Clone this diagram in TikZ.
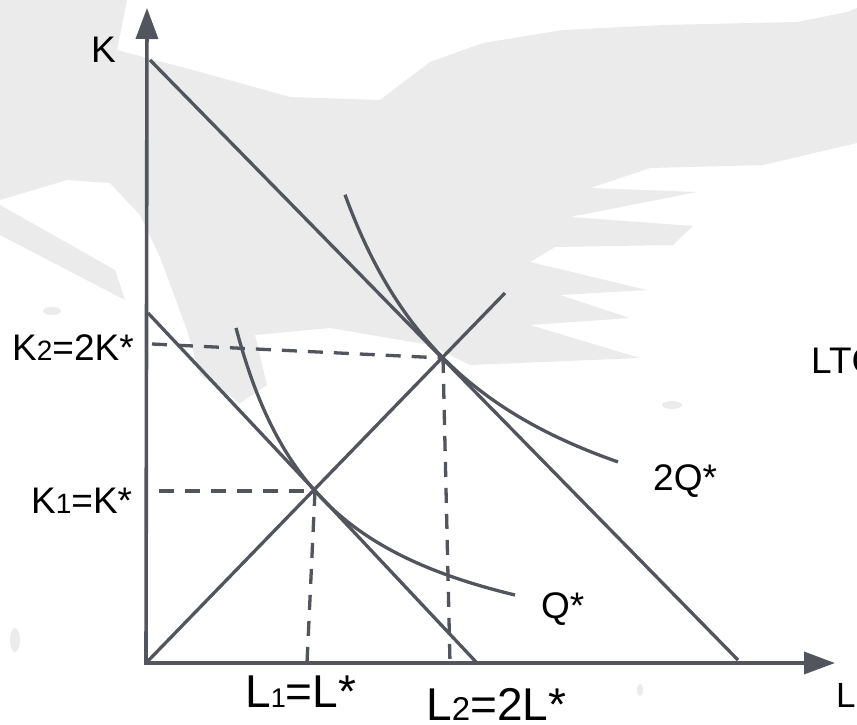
\documentclass[tikz,border=0pt]{standalone}
\usepackage{fontspec}
\setmainfont{Liberation Sans}
\usetikzlibrary{arrows.meta}
\definecolor{inkgray}{RGB}{82,85,94}
\definecolor{splashgray}{RGB}{235,235,235}

\begin{document}
\begin{tikzpicture}[x=1pt,y=-1pt,
  axis/.style={line width=3.6pt, inkgray, {Triangle[length=31pt,width=22pt]}-{Triangle[length=31pt,width=22pt]}},
  budget/.style={line width=3.3pt, inkgray},
  isoquant/.style={line width=3.3pt, inkgray},
  guide/.style={line width=3.3pt, inkgray, dash pattern=on 15pt off 11pt},
  lbl/.style={anchor=base west, inner sep=0pt, font=\fontsize{37}{37}\selectfont},
  biglbl/.style={anchor=base west, inner sep=0pt, font=\fontsize{46}{46}\selectfont}]
\useasboundingbox (0,0) rectangle (857,725);
\fill[white] (0,0) rectangle (857,725);

% Background brush stroke
\fill[splashgray] (0,0) -- (127,0) -- (117,50) -- (200,72) -- (290,97) -- (380,100)
  -- (430,62) -- (483,43) -- (563,30) -- (663,25) -- (797,22) -- (847,12) -- (857,8)
  -- (857,143) -- (763,165) -- (650,168) -- (590,188) -- (697,192) -- (570,217)
  -- (693,226) -- (673,245) -- (555,247) -- (530,262) -- (647,290) -- (560,295)
  -- (630,318) -- (530,325) -- (640,358) -- (470,365) -- (430,345) -- (330,328)
  -- (255,335) -- (267,385) -- (240,403) -- (200,375) -- (187,330) -- (160,257)
  -- (140,215) -- (110,183) -- (67,180) -- (0,200) -- cycle;
\fill[splashgray] (0,205) -- (115,270) -- (125,300) -- (0,235) -- cycle;
\fill[splashgray] (52,311) ellipse (9pt and 4pt);
\fill[splashgray] (15,640) ellipse (5pt and 12pt);
\fill[splashgray] (672,405) ellipse (10pt and 4pt);
\fill[splashgray] (640,690) ellipse (3pt and 6pt);

% Axes
\coordinate (o) at (146,663);
\coordinate (ktip) at (147,8);
\coordinate (ltip) at (835,663);
\draw[axis] (ktip) -- (o) -- (ltip);

% Isocost lines and expansion path
\coordinate (c1a) at (148,313);
\coordinate (c1b) at (477,663);
\coordinate (c2a) at (150,60);
\coordinate (c2b) at (738,660);
\coordinate (ray) at (505,293);
\draw[budget] (c1a) -- (c1b);
\draw[budget] (c2a) -- (c2b);
\draw[budget] (o) -- (ray);

% Optimum points
\coordinate (e1) at (315,491);
\coordinate (e2) at (443,358);

% Isoquants
\draw[isoquant] plot[domain=90:369, samples=80] ({146+\x}, {685-335.53/(0.01*\x+0.04)});
\draw[isoquant] plot[domain=199:472, samples=80] ({146+\x}, {610.5-630.71/(0.01*\x-0.472)});

% Dashed guides
\coordinate (k1) at (159,491);
\coordinate (l1) at (307,663);
\coordinate (k2) at (152,344);
\coordinate (l2) at (450,663);
\draw[guide] (k1) -- (e1);
\draw[guide] (e1) -- (l1);
\draw[guide] (k2) -- (e2);
\draw[guide] (e2) -- (l2);

% Labels
\node[lbl] (klbl) at (91,63) {K};
\node[lbl] (k2lbl) at (12,360) {K{\fontsize{28}{28}\selectfont 2}=2K*};
\node[lbl] (k1lbl) at (31,513) {K{\fontsize{28}{28}\selectfont 1}=K*};
\node[biglbl] (l1lbl) at (245,707) {L{\fontsize{27}{27}\selectfont 1}=L*};
\node[biglbl] (l2lbl) at (426,720) {L{\fontsize{33}{33}\selectfont 2}=2L*};
\node[lbl] (qlbl) at (541,618) {Q*};
\node[lbl] (q2lbl) at (653,490) {2Q*};
\node[lbl] (ltclbl) at (811,373) {LTC};
\node[lbl, font=\fontsize{35}{35}\selectfont] (llbl) at (836,707) {L};
\end{tikzpicture}
\end{document}
